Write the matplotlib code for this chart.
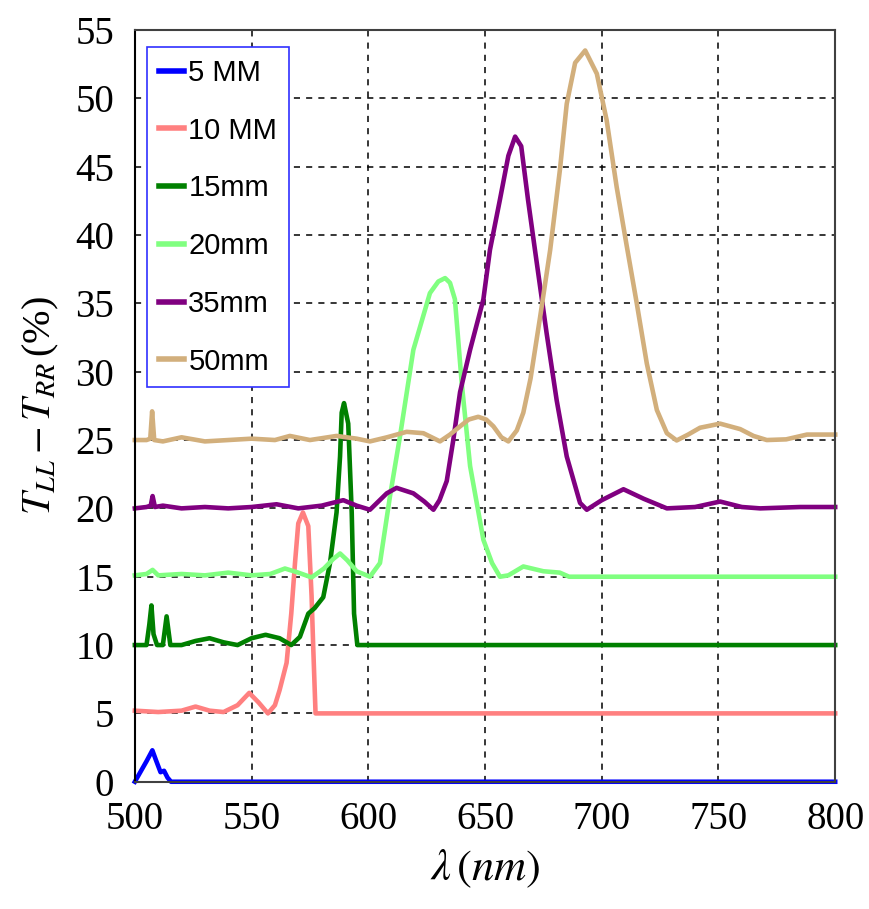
import matplotlib
matplotlib.use("Agg")
import matplotlib.pyplot as plt

# 5 MM
b_x = [500, 502, 505, 507.5, 509, 511, 512.5, 514, 515.5, 800]
b_y = [0, 0.6, 1.5, 2.3, 1.6, 0.7, 0.8, 0.3, 0, 0]

# 10 MM
p_x = [500, 510, 520, 526, 532, 538, 544, 549, 553, 557, 560, 562, 565, 567, 568.6,
       570, 572, 574.3, 575.7, 576.4, 577.4, 800]
p_y = [5.2, 5.1, 5.2, 5.5, 5.2, 5.1, 5.6, 6.5, 5.8, 5.0, 5.6, 6.7, 8.7, 12.3, 16.0,
       18.9, 19.7, 18.7, 13.6, 9.9, 5.0, 5.0]

# 15mm
g_x = [500, 505, 506.2, 507.1, 508, 509.5, 512, 513.6, 515.2, 520, 526, 532, 538, 544,
       550, 556, 562, 567, 570.7, 574.3, 577, 580.7, 583.6, 586.4, 587.9, 588.6, 589.6,
       591.4, 592.9, 593.9, 595.3, 800]
g_y = [10.0, 10.0, 11.5, 12.9, 10.8, 10.0, 10.0, 12.1, 10.0, 10.0, 10.3, 10.5, 10.2, 10.0,
       10.5, 10.75, 10.5, 10.0, 10.6, 12.3, 12.7, 13.5, 16.0, 19.7, 23.8, 27.0, 27.7,
       26.2, 19.7, 12.3, 10.0, 10.0]

# 20mm
lg_x = [500, 505, 507.6, 510, 520, 530, 540, 550, 558, 564.3, 570, 575.7, 581, 585, 587.9,
        591, 595, 600.7, 605, 609.3, 613.6, 619.3, 626.4, 630, 632.9, 635, 637.1, 640,
        643.6, 649.3, 653, 656.4, 660, 666.4, 675, 682, 686, 800]
lg_y = [15.1, 15.2, 15.5, 15.1, 15.2, 15.1, 15.3, 15.1, 15.2, 15.6, 15.3, 14.95, 15.6, 16.3,
        16.7, 16.2, 15.4, 15.0, 16.0, 20.9, 25.3, 31.6, 35.75, 36.6, 36.85, 36.5, 35.3,
        29.2, 23.1, 17.7, 16.0, 15.0, 15.1, 15.75, 15.4, 15.3, 15.0, 15.0]

# 35mm
pu_x = [500, 505, 506.8, 507.6, 508.6, 512, 520, 530, 540, 550, 560.7, 570, 580, 589.3,
        595, 600.7, 607.9, 612.1, 619.3, 624, 627.9, 630.5, 633.6, 636.4, 639.3, 643.6,
        649.3, 652.1, 656.4, 660, 662.9, 665.5, 668.4, 671.4, 676.4, 680.7, 685, 690.7,
        693.6, 700, 709.3, 718, 727.9, 740, 750.7, 760, 767.9, 785, 800]
pu_y = [20.0, 20.1, 20.2, 20.9, 20.1, 20.2, 20.0, 20.1, 20.0, 20.1, 20.3, 20.0, 20.2, 20.6,
        20.2, 19.9, 21.1, 21.5, 21.1, 20.5, 19.9, 20.6, 22.0, 25.0, 28.5, 31.6, 35.3,
        38.9, 42.6, 45.8, 47.2, 46.5, 42.6, 38.9, 32.8, 27.9, 23.8, 20.4, 19.9, 20.6,
        21.4, 20.7, 20.0, 20.1, 20.5, 20.1, 20.0, 20.1, 20.1]

# 50mm
t_x = [500, 505, 506.6, 507.4, 508.3, 512, 520, 530, 540, 550, 560, 566.4, 575, 586.4, 595,
       600.7, 608, 616.4, 623.6, 630.7, 635, 639.3, 643, 647.1, 650.5, 653.6, 657, 660,
       663.6, 666.4, 669.5, 673.6, 677.9, 682.1, 685, 688.6, 692.9, 697.9, 702.1, 706.4,
       710.7, 715, 719.3, 723.6, 727.9, 732.1, 737, 742.1, 750.7, 759.3, 765, 770.7, 779,
       787.9, 800]
t_y = [25.0, 25.0, 25.1, 27.1, 25.0, 24.9, 25.2, 24.9, 25.0, 25.1, 25.0, 25.3, 25.0, 25.3,
       25.1, 24.9, 25.2, 25.6, 25.5, 24.9, 25.4, 26.0, 26.5, 26.7, 26.5, 26.0, 25.2, 24.9,
       25.7, 27.0, 29.5, 34.0, 38.9, 44.8, 49.6, 52.6, 53.5, 51.8, 48.4, 43.5, 39.2, 35.0,
       30.6, 27.2, 25.5, 24.97, 25.4, 25.9, 26.2, 25.8, 25.3, 25.0, 25.05, 25.4, 25.4]

series = [
    (b_x, b_y, "5 MM", "#0000ff"),
    (p_x, p_y, "10 MM", "#ff8080"),
    (g_x, g_y, "15mm", "#008000"),
    (lg_x, lg_y, "20mm", "#80ff80"),
    (pu_x, pu_y, "35mm", "#800080"),
    (t_x, t_y, "50mm", "#d2af7c"),
]

plt.rcParams['mathtext.fontset'] = 'stix'

fig = plt.figure(figsize=(8.7, 9.09), dpi=100)
ax = fig.add_axes([0.155, 0.14, 0.805, 0.827])

for xs, ys, lab, col in series:
    ax.plot(xs, ys, color=col, linewidth=3.3, label=lab, clip_on=False)

ax.set_xlim(500, 800)
ax.set_ylim(0, 55)
ax.set_xticks(range(500, 801, 50))
ax.set_yticks(range(0, 56, 5))
ax.grid(True, color='black', linestyle=(0, (4, 4)), linewidth=1.1)
ax.tick_params(length=0, labelsize=28)
ax.tick_params(axis='y', pad=15)
ax.tick_params(axis='x', pad=14)
for lbl in ax.get_xticklabels() + ax.get_yticklabels():
    lbl.set_family('Liberation Serif')
for s in ax.spines.values():
    s.set_color('#404040')
    s.set_linewidth(1.5)
ax.spines['left'].set_color('black')

ax.set_xlabel(r'$\lambda\,(nm)$', fontsize=32, labelpad=6)
ax.set_ylabel(r'$T_{LL}-T_{RR}\,$(%)', fontsize=29, family='Liberation Serif', labelpad=10)

leg = ax.legend(loc='upper left', bbox_to_anchor=(0.018, 0.977), borderaxespad=0,
                fancybox=False, framealpha=1, edgecolor='#3030ff',
                prop={'family': 'Liberation Sans', 'size': 21},
                handlelength=0.85, handletextpad=0.15, labelspacing=1.02,
                borderpad=0.4)
leg.get_frame().set_linewidth(1.2)
for line in leg.get_lines():
    line.set_linewidth(4)

fig.savefig('out.png', dpi=100)
